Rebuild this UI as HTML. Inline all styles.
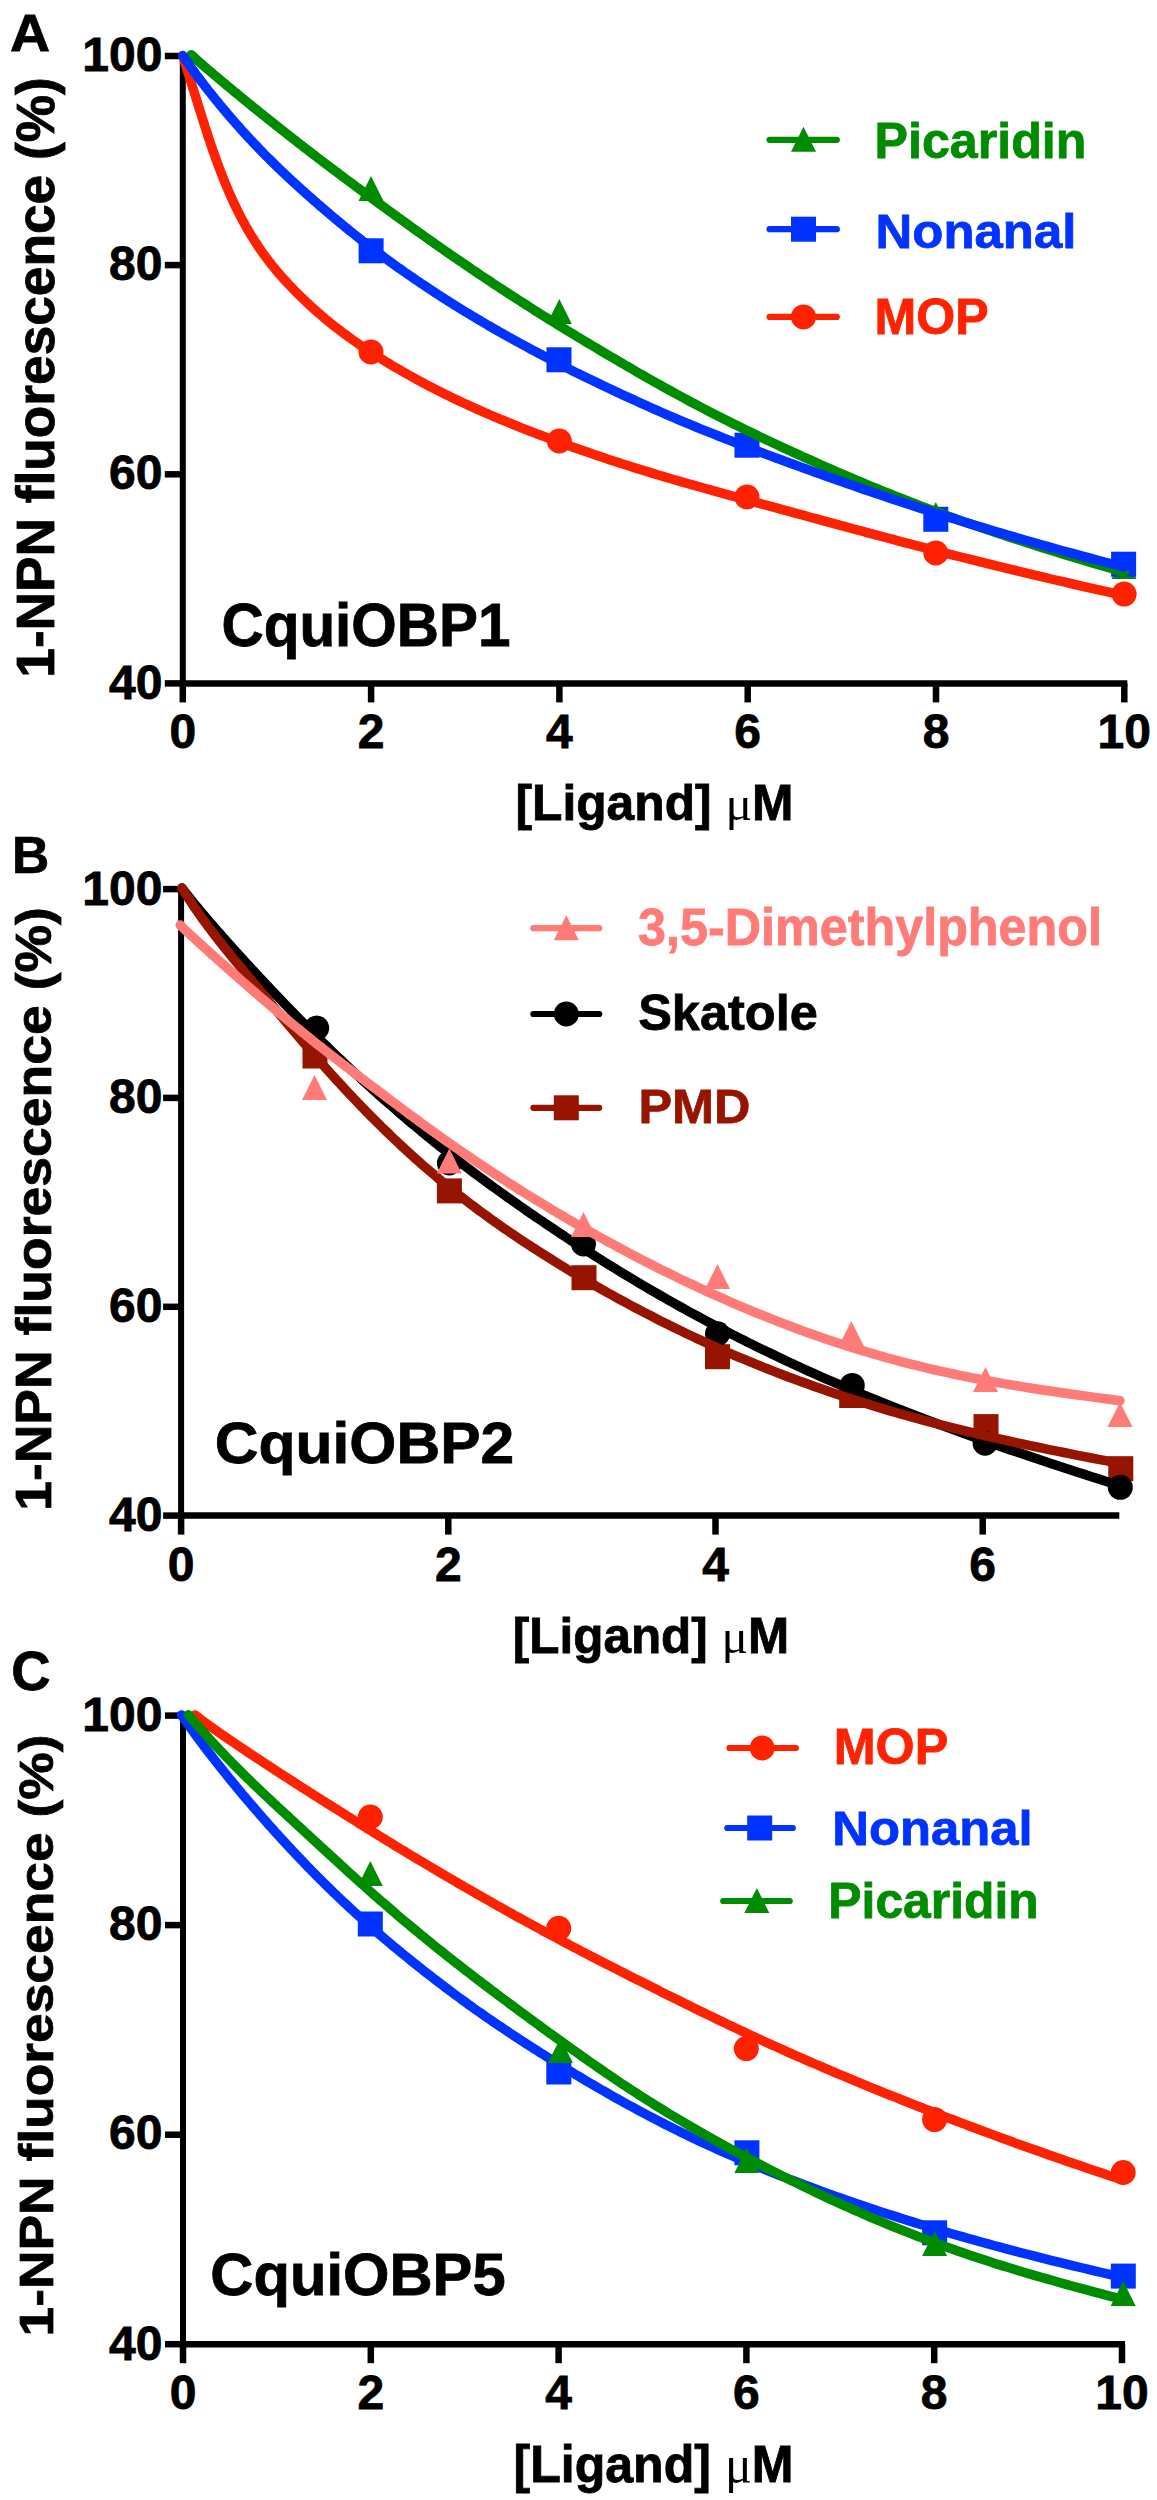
<!DOCTYPE html>
<html><head><meta charset="utf-8"><style>
html,body{margin:0;padding:0;background:#fff;width:1157px;height:2500px;overflow:hidden}
svg{display:block}
text{font-family:"Liberation Sans",sans-serif}
</style></head><body>
<svg width="1157" height="2500" viewBox="0 0 1157 2500">
<rect width="1157" height="2500" fill="#fff"/>
<line x1="182.8" y1="52.7" x2="182.8" y2="686.6999999999999" stroke="#000" stroke-width="6"/>
<line x1="179.8" y1="683.4" x2="1127.3" y2="683.4" stroke="#000" stroke-width="6.5"/>
<line x1="164.8" y1="56.0" x2="182.8" y2="56.0" stroke="#000" stroke-width="6.5"/>
<line x1="164.8" y1="265.1" x2="182.8" y2="265.1" stroke="#000" stroke-width="6.5"/>
<line x1="164.8" y1="474.3" x2="182.8" y2="474.3" stroke="#000" stroke-width="6.5"/>
<line x1="164.8" y1="683.4" x2="182.8" y2="683.4" stroke="#000" stroke-width="6.5"/>
<line x1="182.8" y1="683.4" x2="182.8" y2="702.4" stroke="#000" stroke-width="6.5"/>
<line x1="371.1" y1="683.4" x2="371.1" y2="702.4" stroke="#000" stroke-width="6.5"/>
<line x1="559.4" y1="683.4" x2="559.4" y2="702.4" stroke="#000" stroke-width="6.5"/>
<line x1="747.7" y1="683.4" x2="747.7" y2="702.4" stroke="#000" stroke-width="6.5"/>
<line x1="936.0" y1="683.4" x2="936.0" y2="702.4" stroke="#000" stroke-width="6.5"/>
<line x1="1124.3" y1="683.4" x2="1124.3" y2="702.4" stroke="#000" stroke-width="6.5"/>
<line x1="181.1" y1="885.8000000000001" x2="181.1" y2="1518.8999999999999" stroke="#000" stroke-width="6"/>
<line x1="178.1" y1="1515.6" x2="1119.3" y2="1515.6" stroke="#000" stroke-width="6.5"/>
<line x1="163.1" y1="889.1" x2="181.1" y2="889.1" stroke="#000" stroke-width="6.5"/>
<line x1="163.1" y1="1097.9" x2="181.1" y2="1097.9" stroke="#000" stroke-width="6.5"/>
<line x1="163.1" y1="1306.8" x2="181.1" y2="1306.8" stroke="#000" stroke-width="6.5"/>
<line x1="163.1" y1="1515.6" x2="181.1" y2="1515.6" stroke="#000" stroke-width="6.5"/>
<line x1="181.1" y1="1515.6" x2="181.1" y2="1534.6" stroke="#000" stroke-width="6.5"/>
<line x1="448.3" y1="1515.6" x2="448.3" y2="1534.6" stroke="#000" stroke-width="6.5"/>
<line x1="715.5" y1="1515.6" x2="715.5" y2="1534.6" stroke="#000" stroke-width="6.5"/>
<line x1="982.7" y1="1515.6" x2="982.7" y2="1534.6" stroke="#000" stroke-width="6.5"/>
<line x1="183.0" y1="1712.3" x2="183.0" y2="2347.5" stroke="#000" stroke-width="6"/>
<line x1="180.0" y1="2344.2" x2="1125.0" y2="2344.2" stroke="#000" stroke-width="6.5"/>
<line x1="165.0" y1="1715.6" x2="183.0" y2="1715.6" stroke="#000" stroke-width="6.5"/>
<line x1="165.0" y1="1925.1" x2="183.0" y2="1925.1" stroke="#000" stroke-width="6.5"/>
<line x1="165.0" y1="2134.7" x2="183.0" y2="2134.7" stroke="#000" stroke-width="6.5"/>
<line x1="165.0" y1="2344.2" x2="183.0" y2="2344.2" stroke="#000" stroke-width="6.5"/>
<line x1="183.0" y1="2344.2" x2="183.0" y2="2363.2" stroke="#000" stroke-width="6.5"/>
<line x1="370.8" y1="2344.2" x2="370.8" y2="2363.2" stroke="#000" stroke-width="6.5"/>
<line x1="558.6" y1="2344.2" x2="558.6" y2="2363.2" stroke="#000" stroke-width="6.5"/>
<line x1="746.4" y1="2344.2" x2="746.4" y2="2363.2" stroke="#000" stroke-width="6.5"/>
<line x1="934.2" y1="2344.2" x2="934.2" y2="2363.2" stroke="#000" stroke-width="6.5"/>
<line x1="1122.0" y1="2344.2" x2="1122.0" y2="2363.2" stroke="#000" stroke-width="6.5"/>
<text transform="translate(162.40,70.50)" x="0" y="0" font-size="48" fill="#000000" stroke="#000000" stroke-width="0.8" text-anchor="end" font-weight="bold">100</text>
<text transform="translate(162.40,279.83)" x="0" y="0" font-size="48" fill="#000000" stroke="#000000" stroke-width="0.8" text-anchor="end" font-weight="bold">80</text>
<text transform="translate(162.40,489.17)" x="0" y="0" font-size="48" fill="#000000" stroke="#000000" stroke-width="0.8" text-anchor="end" font-weight="bold">60</text>
<text transform="translate(162.40,698.50)" x="0" y="0" font-size="48" fill="#000000" stroke="#000000" stroke-width="0.8" text-anchor="end" font-weight="bold">40</text>
<text transform="translate(182.80,747.75)" x="0" y="0" font-size="48" fill="#000000" stroke="#000000" stroke-width="0.8" text-anchor="middle" font-weight="bold">0</text>
<text transform="translate(371.10,747.75)" x="0" y="0" font-size="48" fill="#000000" stroke="#000000" stroke-width="0.8" text-anchor="middle" font-weight="bold">2</text>
<text transform="translate(559.40,747.75)" x="0" y="0" font-size="48" fill="#000000" stroke="#000000" stroke-width="0.8" text-anchor="middle" font-weight="bold">4</text>
<text transform="translate(747.70,747.75)" x="0" y="0" font-size="48" fill="#000000" stroke="#000000" stroke-width="0.8" text-anchor="middle" font-weight="bold">6</text>
<text transform="translate(936.00,747.75)" x="0" y="0" font-size="48" fill="#000000" stroke="#000000" stroke-width="0.8" text-anchor="middle" font-weight="bold">8</text>
<text transform="translate(1124.30,747.75)" x="0" y="0" font-size="48" fill="#000000" stroke="#000000" stroke-width="0.8" text-anchor="middle" font-weight="bold">10</text>
<text transform="translate(162.40,904.50)" x="0" y="0" font-size="48" fill="#000000" stroke="#000000" stroke-width="0.8" text-anchor="end" font-weight="bold">100</text>
<text transform="translate(162.40,1112.83)" x="0" y="0" font-size="48" fill="#000000" stroke="#000000" stroke-width="0.8" text-anchor="end" font-weight="bold">80</text>
<text transform="translate(162.40,1322.17)" x="0" y="0" font-size="48" fill="#000000" stroke="#000000" stroke-width="0.8" text-anchor="end" font-weight="bold">60</text>
<text transform="translate(162.40,1530.50)" x="0" y="0" font-size="48" fill="#000000" stroke="#000000" stroke-width="0.8" text-anchor="end" font-weight="bold">40</text>
<text transform="translate(181.10,1580.75)" x="0" y="0" font-size="48" fill="#000000" stroke="#000000" stroke-width="0.8" text-anchor="middle" font-weight="bold">0</text>
<text transform="translate(448.30,1580.75)" x="0" y="0" font-size="48" fill="#000000" stroke="#000000" stroke-width="0.8" text-anchor="middle" font-weight="bold">2</text>
<text transform="translate(715.50,1580.75)" x="0" y="0" font-size="48" fill="#000000" stroke="#000000" stroke-width="0.8" text-anchor="middle" font-weight="bold">4</text>
<text transform="translate(982.70,1580.75)" x="0" y="0" font-size="48" fill="#000000" stroke="#000000" stroke-width="0.8" text-anchor="middle" font-weight="bold">6</text>
<text transform="translate(162.40,1730.50)" x="0" y="0" font-size="48" fill="#000000" stroke="#000000" stroke-width="0.8" text-anchor="end" font-weight="bold">100</text>
<text transform="translate(162.40,1939.83)" x="0" y="0" font-size="48" fill="#000000" stroke="#000000" stroke-width="0.8" text-anchor="end" font-weight="bold">80</text>
<text transform="translate(162.40,2149.17)" x="0" y="0" font-size="48" fill="#000000" stroke="#000000" stroke-width="0.8" text-anchor="end" font-weight="bold">60</text>
<text transform="translate(162.40,2359.50)" x="0" y="0" font-size="48" fill="#000000" stroke="#000000" stroke-width="0.8" text-anchor="end" font-weight="bold">40</text>
<text transform="translate(183.00,2408.75)" x="0" y="0" font-size="48" fill="#000000" stroke="#000000" stroke-width="0.8" text-anchor="middle" font-weight="bold">0</text>
<text transform="translate(370.80,2408.75)" x="0" y="0" font-size="48" fill="#000000" stroke="#000000" stroke-width="0.8" text-anchor="middle" font-weight="bold">2</text>
<text transform="translate(558.60,2408.75)" x="0" y="0" font-size="48" fill="#000000" stroke="#000000" stroke-width="0.8" text-anchor="middle" font-weight="bold">4</text>
<text transform="translate(746.40,2408.75)" x="0" y="0" font-size="48" fill="#000000" stroke="#000000" stroke-width="0.8" text-anchor="middle" font-weight="bold">6</text>
<text transform="translate(934.20,2408.75)" x="0" y="0" font-size="48" fill="#000000" stroke="#000000" stroke-width="0.8" text-anchor="middle" font-weight="bold">8</text>
<text transform="translate(1122.00,2408.75)" x="0" y="0" font-size="48" fill="#000000" stroke="#000000" stroke-width="0.8" text-anchor="middle" font-weight="bold">10</text>
<text transform="translate(30.00,50.85) scale(1.0094,0.9587)" x="0" y="0" font-size="55" fill="#000000" stroke="#000000" stroke-width="0.8" text-anchor="middle" font-weight="bold">A</text>
<text transform="translate(30.50,873.35) scale(0.9379,0.9344)" x="0" y="0" font-size="55" fill="#000000" stroke="#000000" stroke-width="0.8" text-anchor="middle" font-weight="bold">B</text>
<text transform="translate(31.00,1690.15) scale(0.9894,0.9930)" x="0" y="0" font-size="55" fill="#000000" stroke="#000000" stroke-width="0.8" text-anchor="middle" font-weight="bold">C</text>
<text transform="translate(53.65,377.50) rotate(-90) scale(1.0239,1.0164)" x="0" y="0" font-size="52" fill="#000000" stroke="#000000" stroke-width="0.8" text-anchor="middle" font-weight="bold">1-NPN fluorescence (%)</text>
<text transform="translate(51.05,1209.00) rotate(-90) scale(1.0293,0.9607)" x="0" y="0" font-size="52" fill="#000000" stroke="#000000" stroke-width="0.8" text-anchor="middle" font-weight="bold">1-NPN fluorescence (%)</text>
<text transform="translate(52.75,2035.50) rotate(-90) scale(1.0265,0.9355)" x="0" y="0" font-size="52" fill="#000000" stroke="#000000" stroke-width="0.8" text-anchor="middle" font-weight="bold">1-NPN fluorescence (%)</text>
<text transform="translate(654.50,820.45) scale(0.9949,0.9843)" x="0" y="0" font-size="50" fill="#000000" stroke="#000000" stroke-width="0.8" text-anchor="middle" font-weight="bold">[Ligand] <tspan font-weight="normal" stroke-width="0" font-family="Liberation Serif">&#956;</tspan>M</text>
<text transform="translate(651.00,1652.50) scale(0.9887,0.9824)" x="0" y="0" font-size="50" fill="#000000" stroke="#000000" stroke-width="0.8" text-anchor="middle" font-weight="bold">[Ligand] <tspan font-weight="normal" stroke-width="0" font-family="Liberation Serif">&#956;</tspan>M</text>
<text transform="translate(653.50,2481.50) scale(1.0022,1.0353)" x="0" y="0" font-size="50" fill="#000000" stroke="#000000" stroke-width="0.8" text-anchor="middle" font-weight="bold">[Ligand] <tspan font-weight="normal" stroke-width="0" font-family="Liberation Serif">&#956;</tspan>M</text>
<text transform="translate(366.00,646.25) scale(0.9434,0.9935)" x="0" y="0" font-size="62" fill="#000000" stroke="#000000" stroke-width="0.8" text-anchor="middle" font-weight="bold">CquiOBP1</text>
<text transform="translate(364.50,1462.85) scale(0.9768,0.9394)" x="0" y="0" font-size="62" fill="#000000" stroke="#000000" stroke-width="0.8" text-anchor="middle" font-weight="bold">CquiOBP2</text>
<text transform="translate(358.00,2295.40) scale(0.9636,0.9541)" x="0" y="0" font-size="62" fill="#000000" stroke="#000000" stroke-width="0.8" text-anchor="middle" font-weight="bold">CquiOBP5</text>
<text transform="translate(980.50,158.40) scale(0.9933,0.9855)" x="0" y="0" font-size="50.5" fill="#008c00" stroke="#008c00" stroke-width="0.8" text-anchor="middle" font-weight="bold">Picaridin</text>
<text transform="translate(976.00,247.65) scale(1.0084,0.9693)" x="0" y="0" font-size="50.5" fill="#0033ff" stroke="#0033ff" stroke-width="0.8" text-anchor="middle" font-weight="bold">Nonanal</text>
<text transform="translate(931.50,334.05) scale(0.9929,1.0006)" x="0" y="0" font-size="50.5" fill="#ff2200" stroke="#ff2200" stroke-width="0.8" text-anchor="middle" font-weight="bold">MOP</text>
<text transform="translate(870.00,945.35) scale(0.9965,1.0312)" x="0" y="0" font-size="50.5" fill="#ff7b78" stroke="#ff7b78" stroke-width="0.8" text-anchor="middle" font-weight="bold">3,5-Dimethylphenol</text>
<text transform="translate(728.00,1029.50) scale(1.0006,0.9790)" x="0" y="0" font-size="50.5" fill="#000000" stroke="#000000" stroke-width="0.8" text-anchor="middle" font-weight="bold">Skatole</text>
<text transform="translate(694.50,1122.90) scale(0.9983,0.9533)" x="0" y="0" font-size="50.5" fill="#961400" stroke="#961400" stroke-width="0.8" text-anchor="middle" font-weight="bold">PMD</text>
<text transform="translate(891.00,1764.15) scale(0.9957,0.9942)" x="0" y="0" font-size="50.5" fill="#ff2200" stroke="#ff2200" stroke-width="0.8" text-anchor="middle" font-weight="bold">MOP</text>
<text transform="translate(932.50,1845.05) scale(1.0058,0.9485)" x="0" y="0" font-size="50.5" fill="#0033ff" stroke="#0033ff" stroke-width="0.8" text-anchor="middle" font-weight="bold">Nonanal</text>
<text transform="translate(933.50,1918.40) scale(0.9861,0.9846)" x="0" y="0" font-size="50.5" fill="#008c00" stroke="#008c00" stroke-width="0.8" text-anchor="middle" font-weight="bold">Picaridin</text>
<line x1="769.6" y1="139.8" x2="836.8" y2="139.8" stroke="#008c00" stroke-width="6.2" stroke-linecap="round"/>
<path d="M803.5,126.8 L816.0,151.8 L791.0,151.8 Z" fill="#008c00"/>
<line x1="769.6" y1="229.2" x2="836.8" y2="229.2" stroke="#0033ff" stroke-width="6.2" stroke-linecap="round"/>
<rect x="791.0" y="216.7" width="25" height="25" fill="#0033ff"/>
<line x1="769.6" y1="316.9" x2="836.8" y2="316.9" stroke="#ff2200" stroke-width="6.2" stroke-linecap="round"/>
<circle cx="803.5" cy="316.9" r="12.5" fill="#ff2200"/>
<line x1="533.4" y1="928.2" x2="599.2" y2="928.2" stroke="#ff7b78" stroke-width="6.2" stroke-linecap="round"/>
<path d="M566.3,915.2 L578.8,940.2 L553.8,940.2 Z" fill="#ff7b78"/>
<line x1="533.4" y1="1014.0" x2="599.2" y2="1014.0" stroke="#000000" stroke-width="6.2" stroke-linecap="round"/>
<circle cx="566.3" cy="1014.0" r="12.5" fill="#000000"/>
<line x1="533.4" y1="1107.8" x2="599.2" y2="1107.8" stroke="#961400" stroke-width="6.2" stroke-linecap="round"/>
<rect x="553.8" y="1095.3" width="25" height="25" fill="#961400"/>
<line x1="729.4" y1="1748.0" x2="795.9" y2="1748.0" stroke="#ff2200" stroke-width="6.2" stroke-linecap="round"/>
<circle cx="762.2" cy="1748.0" r="12.5" fill="#ff2200"/>
<line x1="727.3" y1="1828.0" x2="792.8" y2="1828.0" stroke="#0033ff" stroke-width="6.2" stroke-linecap="round"/>
<rect x="747.2" y="1815.5" width="25" height="25" fill="#0033ff"/>
<line x1="723.2" y1="1901.0" x2="789.7" y2="1901.0" stroke="#008c00" stroke-width="6.2" stroke-linecap="round"/>
<path d="M756.9,1888.0 L769.4,1913.0 L744.4,1913.0 Z" fill="#008c00"/>
<path d="M371.0,176.0 L383.5,201.0 L358.5,201.0 Z" fill="#008c00"/>
<path d="M559.3,299.0 L571.8,324.0 L546.8,324.0 Z" fill="#008c00"/>
<path d="M747.0,427.0 L759.5,452.0 L734.5,452.0 Z" fill="#008c00"/>
<path d="M935.8,502.0 L948.3,527.0 L923.3,527.0 Z" fill="#008c00"/>
<path d="M1124.0,554.0 L1136.5,579.0 L1111.5,579.0 Z" fill="#008c00"/>
<path d="M182.8,55.5 L183.2,57.0 L183.7,58.5 L184.1,60.0 L184.5,61.5 L185.0,63.0 L185.5,64.5 L185.9,66.0 L186.4,67.5 L186.8,69.0 L187.3,70.5 L187.8,72.1 L188.3,73.6 L188.8,75.2 L189.3,76.7 L189.8,78.3 L190.3,79.9 L190.8,81.5 L191.3,83.1 L191.8,84.8 L192.3,86.4 L192.9,88.1 L193.4,89.8 L194.0,91.5 L194.5,93.3 L195.1,95.0 L195.6,96.8 L196.2,98.7 L196.8,100.5 L197.4,102.3 L197.9,104.2 L198.5,106.1 L199.1,108.1 L199.7,110.0 L200.4,112.0 L201.0,113.9 L201.6,115.9 L202.2,118.0 L202.9,120.0 L203.5,122.0 L204.2,124.1 L204.8,126.2 L205.5,128.2 L206.2,130.3 L206.9,132.4 L207.5,134.5 L208.2,136.7 L208.9,138.8 L209.7,140.9 L210.4,143.1 L211.1,145.2 L211.8,147.4 L212.6,149.5 L213.3,151.7 L214.1,153.8 L214.9,156.0 L215.6,158.2 L216.4,160.3 L217.2,162.5 L218.0,164.7 L218.8,166.8 L219.6,169.0 L220.5,171.2 L221.3,173.3 L222.1,175.5 L223.0,177.7 L223.9,179.8 L224.7,182.0 L225.6,184.1 L226.5,186.3 L227.4,188.4 L228.3,190.5 L229.2,192.7 L230.2,194.8 L231.1,196.9 L232.1,199.0 L233.0,201.1 L234.0,203.2 L235.0,205.3 L236.0,207.4 L237.0,209.4 L238.0,211.5 L239.0,213.5 L240.0,215.5 L241.1,217.5 L242.1,219.5 L243.2,221.5 L244.3,223.5 L245.4,225.5 L246.5,227.4 L247.6,229.4 L248.7,231.3 L249.9,233.2 L251.0,235.1 L252.2,237.0 L253.4,238.9 L254.6,240.8 L255.8,242.6 L257.0,244.5 L258.2,246.3 L259.4,248.1 L260.7,250.0 L262.0,251.8 L263.2,253.6 L264.5,255.4 L265.8,257.1 L267.2,258.9 L268.5,260.7 L269.9,262.4 L271.2,264.2 L272.6,265.9 L274.0,267.6 L275.4,269.3 L276.8,271.1 L278.3,272.8 L279.7,274.4 L281.2,276.1 L282.7,277.8 L284.2,279.5 L285.7,281.2 L287.3,282.8 L288.8,284.5 L290.4,286.1 L292.0,287.8 L293.6,289.5 L295.2,291.1 L296.9,292.8 L298.5,294.4 L300.2,296.1 L301.9,297.7 L303.6,299.4 L305.3,301.0 L307.1,302.7 L308.8,304.3 L310.6,306.0 L312.4,307.6 L314.3,309.3 L316.1,310.9 L318.0,312.6 L319.9,314.2 L321.8,315.8 L323.7,317.5 L325.6,319.1 L327.6,320.7 L329.6,322.3 L331.6,324.0 L333.6,325.6 L335.7,327.2 L337.8,328.8 L339.9,330.4 L342.0,332.0 L344.1,333.6 L346.3,335.2 L348.5,336.8 L350.7,338.4 L352.9,340.0 L355.2,341.6 L357.5,343.2 L359.8,344.8 L362.1,346.4 L364.5,348.0 L366.9,349.5 L369.3,351.1 L371.7,352.7 L374.2,354.3 L376.7,355.9 L379.2,357.5 L381.7,359.1 L384.3,360.7 L386.9,362.3 L389.5,363.9 L392.2,365.5 L394.8,367.1 L397.6,368.7 L400.3,370.2 L403.1,371.8 L405.9,373.4 L408.7,375.0 L411.6,376.6 L414.5,378.2 L417.4,379.8 L420.3,381.4 L423.3,383.0 L426.3,384.6 L429.4,386.2 L432.5,387.8 L435.6,389.4 L438.7,391.0 L441.9,392.6 L445.1,394.2 L448.4,395.8 L451.7,397.4 L455.0,399.0 L458.4,400.6 L461.8,402.2 L465.2,403.8 L468.7,405.4 L472.2,407.0 L475.7,408.6 L479.3,410.2 L482.9,411.8 L486.6,413.4 L490.3,415.0 L494.0,416.6 L497.8,418.2 L501.6,419.8 L505.5,421.3 L509.4,422.9 L513.3,424.5 L517.3,426.2 L521.3,427.8 L525.4,429.4 L529.5,431.0 L533.7,432.6 L537.9,434.2 L542.1,435.8 L546.4,437.4 L550.8,439.0 L555.2,440.7 L559.6,442.3 L564.1,443.9 L568.6,445.5 L573.2,447.2 L577.8,448.8 L582.5,450.5 L587.2,452.1 L592.0,453.8 L596.9,455.4 L601.7,457.1 L606.7,458.7 L611.7,460.4 L616.7,462.0 L621.8,463.7 L627.0,465.3 L632.2,467.0 L637.4,468.6 L642.8,470.3 L648.2,471.9 L653.6,473.6 L659.1,475.2 L664.6,476.9 L670.3,478.5 L675.9,480.2 L681.7,481.8 L687.5,483.5 L693.3,485.1 L699.2,486.8 L705.2,488.5 L711.3,490.2 L717.4,491.9 L723.6,493.6 L729.8,495.3 L736.1,497.0 L742.5,498.8 L749.0,500.5 L755.5,502.3 L762.1,504.1 L768.8,505.9 L775.5,507.7 L782.3,509.6 L789.2,511.4 L796.1,513.3 L803.2,515.2 L810.3,517.2 L817.5,519.1 L824.7,521.1 L832.1,523.1 L839.5,525.1 L847.0,527.1 L854.5,529.2 L862.2,531.2 L869.9,533.3 L877.8,535.4 L885.7,537.5 L893.7,539.6 L901.7,541.8 L909.9,543.9 L918.2,546.1 L926.5,548.2 L934.9,550.4 L943.5,552.6 L952.1,554.8 L960.8,557.0 L969.6,559.2 L978.5,561.4 L987.5,563.6 L996.6,565.9 L1005.7,568.1 L1015.0,570.4 L1024.4,572.6 L1033.9,574.9 L1043.5,577.2 L1053.2,579.5 L1063.0,581.7 L1072.9,584.0 L1082.9,586.3 L1093.0,588.6 L1103.2,590.9 L1113.6,593.2 L1124.0,595.5" fill="none" stroke="#ff2200" stroke-width="9.5" stroke-linecap="round" stroke-linejoin="round"/>
<circle cx="371.0" cy="352.0" r="12.5" fill="#ff2200"/>
<circle cx="559.3" cy="441.0" r="12.5" fill="#ff2200"/>
<circle cx="747.0" cy="497.0" r="12.5" fill="#ff2200"/>
<circle cx="935.8" cy="553.0" r="12.5" fill="#ff2200"/>
<circle cx="1124.1" cy="594.1" r="12.5" fill="#ff2200"/>
<rect x="358.6" y="238.3" width="25" height="25" fill="#0033ff"/>
<rect x="546.5" y="347.3" width="25" height="25" fill="#0033ff"/>
<rect x="734.5" y="432.7" width="25" height="25" fill="#0033ff"/>
<rect x="923.3" y="506.8" width="25" height="25" fill="#0033ff"/>
<rect x="1111.1" y="551.7" width="25" height="25" fill="#0033ff"/>
<path d="M191.2,54.7 L192.2,55.6 L193.2,56.5 L194.2,57.4 L195.2,58.3 L196.2,59.3 L197.3,60.2 L198.3,61.1 L199.3,62.0 L200.4,63.0 L201.5,63.9 L202.5,64.8 L203.6,65.7 L204.7,66.7 L205.7,67.6 L206.8,68.6 L207.9,69.5 L209.0,70.4 L210.2,71.4 L211.3,72.3 L212.4,73.3 L213.5,74.3 L214.7,75.2 L215.8,76.2 L217.0,77.2 L218.2,78.1 L219.3,79.1 L220.5,80.1 L221.7,81.1 L222.9,82.1 L224.1,83.1 L225.3,84.1 L226.5,85.2 L227.8,86.2 L229.0,87.2 L230.3,88.2 L231.5,89.3 L232.8,90.3 L234.0,91.4 L235.3,92.4 L236.6,93.5 L237.9,94.6 L239.2,95.6 L240.5,96.7 L241.8,97.8 L243.2,98.9 L244.5,100.0 L245.9,101.1 L247.2,102.2 L248.6,103.3 L250.0,104.4 L251.3,105.5 L252.7,106.7 L254.1,107.8 L255.6,108.9 L257.0,110.1 L258.4,111.2 L259.8,112.4 L261.3,113.6 L262.8,114.7 L264.2,115.9 L265.7,117.1 L267.2,118.3 L268.7,119.5 L270.2,120.7 L271.7,121.9 L273.3,123.1 L274.8,124.3 L276.3,125.6 L277.9,126.8 L279.5,128.0 L281.0,129.3 L282.6,130.5 L284.2,131.8 L285.9,133.1 L287.5,134.4 L289.1,135.6 L290.8,136.9 L292.4,138.2 L294.1,139.5 L295.8,140.8 L297.4,142.1 L299.1,143.5 L300.9,144.8 L302.6,146.1 L304.3,147.5 L306.1,148.8 L307.8,150.2 L309.6,151.5 L311.4,152.9 L313.2,154.3 L315.0,155.7 L316.8,157.0 L318.6,158.4 L320.4,159.8 L322.3,161.2 L324.2,162.7 L326.0,164.1 L327.9,165.5 L329.8,166.9 L331.7,168.4 L333.7,169.8 L335.6,171.3 L337.6,172.7 L339.5,174.2 L341.5,175.7 L343.5,177.2 L345.5,178.7 L347.5,180.2 L349.5,181.7 L351.6,183.2 L353.7,184.7 L355.7,186.3 L357.8,187.8 L359.9,189.4 L362.0,191.0 L364.2,192.5 L366.3,194.1 L368.5,195.7 L370.6,197.3 L372.8,198.9 L375.0,200.6 L377.2,202.2 L379.4,203.8 L381.7,205.5 L384.0,207.1 L386.2,208.8 L388.5,210.5 L390.8,212.1 L393.1,213.8 L395.5,215.5 L397.8,217.2 L400.2,218.9 L402.6,220.7 L405.0,222.4 L407.4,224.1 L409.8,225.9 L412.2,227.6 L414.7,229.4 L417.2,231.2 L419.7,232.9 L422.2,234.7 L424.7,236.5 L427.3,238.3 L429.8,240.1 L432.4,241.9 L435.0,243.8 L437.6,245.6 L440.2,247.4 L442.9,249.3 L445.5,251.1 L448.2,253.0 L450.9,254.9 L453.6,256.7 L456.4,258.6 L459.1,260.5 L461.9,262.4 L464.7,264.3 L467.5,266.2 L470.3,268.2 L473.2,270.1 L476.0,272.0 L478.9,274.0 L481.8,275.9 L484.8,277.9 L487.7,279.8 L490.7,281.8 L493.6,283.8 L496.6,285.8 L499.7,287.7 L502.7,289.7 L505.8,291.7 L508.8,293.7 L512.0,295.8 L515.1,297.8 L518.2,299.8 L521.4,301.9 L524.6,303.9 L527.8,305.9 L531.0,308.0 L534.2,310.1 L537.5,312.1 L540.8,314.2 L544.1,316.3 L547.5,318.4 L550.8,320.4 L554.2,322.5 L557.6,324.6 L561.0,326.8 L564.5,328.9 L567.9,331.0 L571.4,333.1 L575.0,335.2 L578.5,337.4 L582.1,339.5 L585.6,341.7 L589.3,343.9 L592.9,346.0 L596.6,348.2 L600.2,350.4 L603.9,352.6 L607.7,354.8 L611.4,357.0 L615.2,359.2 L619.0,361.5 L622.9,363.7 L626.7,366.0 L630.6,368.2 L634.5,370.5 L638.4,372.8 L642.4,375.0 L646.4,377.3 L650.4,379.6 L654.4,381.9 L658.5,384.2 L662.6,386.5 L666.7,388.7 L670.9,391.0 L675.1,393.3 L679.3,395.6 L683.5,397.9 L687.8,400.2 L692.0,402.5 L696.4,404.8 L700.7,407.1 L705.1,409.4 L709.5,411.7 L713.9,413.9 L718.4,416.2 L722.9,418.5 L727.4,420.8 L731.9,423.1 L736.5,425.3 L741.1,427.6 L745.8,429.9 L750.4,432.1 L755.2,434.4 L759.9,436.7 L764.7,439.0 L769.5,441.2 L774.3,443.5 L779.1,445.8 L784.0,448.1 L789.0,450.3 L793.9,452.6 L798.9,454.9 L803.9,457.2 L809.0,459.4 L814.1,461.7 L819.2,464.0 L824.4,466.3 L829.6,468.6 L834.8,470.9 L840.1,473.1 L845.4,475.4 L850.7,477.7 L856.1,480.0 L861.5,482.2 L866.9,484.5 L872.4,486.8 L877.9,489.0 L883.5,491.3 L889.0,493.5 L894.7,495.8 L900.3,498.0 L906.0,500.2 L911.8,502.4 L917.5,504.7 L923.4,506.9 L929.2,509.1 L935.1,511.2 L941.0,513.4 L947.0,515.6 L953.0,517.8 L959.0,519.9 L965.1,522.1 L971.3,524.2 L977.4,526.4 L983.6,528.5 L989.9,530.6 L996.2,532.7 L1002.5,534.8 L1008.9,536.9 L1015.3,539.0 L1021.8,541.1 L1028.3,543.2 L1034.8,545.3 L1041.4,547.4 L1048.1,549.5 L1054.7,551.5 L1061.5,553.6 L1068.2,555.7 L1075.0,557.7 L1081.9,559.8 L1088.8,561.9 L1095.7,563.9 L1102.7,566.0 L1109.8,568.0 L1116.9,570.1 L1124.0,572.1" fill="none" stroke="#008c00" stroke-width="9.5" stroke-linecap="round" stroke-linejoin="round"/>
<path d="M182.8,55.6 L183.8,57.1 L184.8,58.5 L185.8,60.0 L186.8,61.5 L187.9,62.9 L188.9,64.4 L189.9,65.9 L191.0,67.3 L192.0,68.8 L193.1,70.3 L194.2,71.7 L195.2,73.2 L196.3,74.7 L197.4,76.2 L198.5,77.6 L199.6,79.1 L200.7,80.6 L201.8,82.0 L203.0,83.5 L204.1,85.0 L205.2,86.5 L206.4,87.9 L207.5,89.4 L208.7,90.9 L209.9,92.4 L211.1,93.9 L212.2,95.3 L213.4,96.8 L214.6,98.3 L215.8,99.8 L217.1,101.3 L218.3,102.8 L219.5,104.3 L220.8,105.8 L222.0,107.3 L223.3,108.8 L224.6,110.3 L225.8,111.8 L227.1,113.4 L228.4,114.9 L229.7,116.4 L231.0,117.9 L232.3,119.5 L233.7,121.0 L235.0,122.5 L236.4,124.1 L237.7,125.6 L239.1,127.1 L240.4,128.7 L241.8,130.2 L243.2,131.7 L244.6,133.3 L246.0,134.8 L247.5,136.4 L248.9,137.9 L250.3,139.5 L251.8,141.0 L253.2,142.6 L254.7,144.1 L256.2,145.7 L257.7,147.2 L259.2,148.8 L260.7,150.3 L262.2,151.9 L263.7,153.5 L265.2,155.0 L266.8,156.6 L268.4,158.1 L269.9,159.7 L271.5,161.3 L273.1,162.8 L274.7,164.4 L276.3,166.0 L277.9,167.5 L279.6,169.1 L281.2,170.7 L282.9,172.2 L284.5,173.8 L286.2,175.4 L287.9,177.0 L289.6,178.6 L291.3,180.2 L293.0,181.7 L294.7,183.3 L296.5,184.9 L298.2,186.5 L300.0,188.1 L301.8,189.7 L303.6,191.3 L305.4,193.0 L307.2,194.6 L309.0,196.2 L310.9,197.8 L312.7,199.5 L314.6,201.1 L316.5,202.7 L318.3,204.4 L320.2,206.0 L322.2,207.7 L324.1,209.3 L326.0,211.0 L328.0,212.6 L329.9,214.3 L331.9,216.0 L333.9,217.7 L335.9,219.3 L337.9,221.0 L340.0,222.7 L342.0,224.4 L344.1,226.1 L346.1,227.8 L348.2,229.5 L350.3,231.2 L352.5,232.9 L354.6,234.6 L356.7,236.3 L358.9,238.0 L361.1,239.7 L363.2,241.4 L365.4,243.1 L367.7,244.9 L369.9,246.6 L372.1,248.3 L374.4,250.0 L376.7,251.8 L378.9,253.5 L381.3,255.2 L383.6,256.9 L385.9,258.7 L388.3,260.4 L390.6,262.1 L393.0,263.8 L395.4,265.6 L397.8,267.3 L400.3,269.0 L402.7,270.7 L405.2,272.5 L407.6,274.2 L410.1,275.9 L412.7,277.6 L415.2,279.4 L417.7,281.1 L420.3,282.8 L422.9,284.6 L425.5,286.3 L428.1,288.0 L430.7,289.8 L433.4,291.5 L436.0,293.3 L438.7,295.0 L441.4,296.7 L444.1,298.5 L446.9,300.2 L449.6,302.0 L452.4,303.7 L455.2,305.5 L458.0,307.2 L460.9,309.0 L463.7,310.7 L466.6,312.5 L469.5,314.2 L472.4,316.0 L475.3,317.7 L478.2,319.5 L481.2,321.2 L484.2,323.0 L487.2,324.8 L490.2,326.5 L493.3,328.3 L496.3,330.0 L499.4,331.8 L502.5,333.5 L505.7,335.3 L508.8,337.1 L512.0,338.8 L515.2,340.6 L518.4,342.4 L521.6,344.1 L524.9,345.9 L528.1,347.7 L531.4,349.5 L534.8,351.2 L538.1,353.0 L541.5,354.8 L544.9,356.6 L548.3,358.4 L551.7,360.2 L555.2,361.9 L558.6,363.7 L562.1,365.5 L565.7,367.3 L569.2,369.1 L572.8,370.9 L576.4,372.7 L580.0,374.4 L583.6,376.2 L587.3,378.0 L591.0,379.8 L594.7,381.6 L598.5,383.4 L602.2,385.2 L606.0,387.0 L609.8,388.8 L613.7,390.6 L617.5,392.4 L621.4,394.3 L625.4,396.1 L629.3,397.9 L633.3,399.7 L637.3,401.5 L641.3,403.4 L645.4,405.2 L649.4,407.0 L653.5,408.8 L657.7,410.7 L661.8,412.5 L666.0,414.3 L670.2,416.1 L674.5,417.9 L678.8,419.8 L683.1,421.6 L687.4,423.4 L691.7,425.2 L696.1,427.0 L700.5,428.8 L705.0,430.6 L709.5,432.4 L714.0,434.2 L718.5,436.0 L723.1,437.8 L727.7,439.6 L732.3,441.4 L737.0,443.2 L741.6,445.0 L746.4,446.8 L751.1,448.6 L755.9,450.4 L760.7,452.2 L765.6,454.1 L770.4,455.9 L775.4,457.7 L780.3,459.5 L785.3,461.4 L790.3,463.2 L795.3,465.0 L800.4,466.9 L805.5,468.7 L810.7,470.6 L815.8,472.5 L821.1,474.3 L826.3,476.2 L831.6,478.1 L836.9,479.9 L842.3,481.8 L847.7,483.7 L853.1,485.6 L858.5,487.5 L864.0,489.4 L869.6,491.3 L875.2,493.2 L880.8,495.1 L886.4,497.0 L892.1,498.9 L897.8,500.8 L903.6,502.7 L909.4,504.6 L915.2,506.5 L921.1,508.4 L927.0,510.3 L933.0,512.2 L938.9,514.1 L945.0,516.0 L951.1,517.9 L957.2,519.8 L963.3,521.7 L969.5,523.6 L975.8,525.5 L982.0,527.4 L988.4,529.3 L994.7,531.2 L1001.1,533.1 L1007.6,535.0 L1014.1,536.9 L1020.6,538.8 L1027.2,540.7 L1033.8,542.6 L1040.5,544.5 L1047.2,546.4 L1053.9,548.3 L1060.7,550.2 L1067.6,552.1 L1074.5,553.9 L1081.4,555.8 L1088.4,557.7 L1095.4,559.6 L1102.5,561.5 L1109.6,563.3 L1116.8,565.2 L1124.0,567.1" fill="none" stroke="#0033ff" stroke-width="9.5" stroke-linecap="round" stroke-linejoin="round"/>
<rect x="302.5" y="1043.5" width="25" height="25" fill="#961400"/>
<rect x="436.9" y="1178.4" width="25" height="25" fill="#961400"/>
<rect x="571.5" y="1265.2" width="25" height="25" fill="#961400"/>
<rect x="705.0" y="1344.2" width="25" height="25" fill="#961400"/>
<rect x="839.2" y="1383.0" width="25" height="25" fill="#961400"/>
<rect x="973.5" y="1414.1" width="25" height="25" fill="#961400"/>
<rect x="1108.3" y="1456.2" width="25" height="25" fill="#961400"/>
<circle cx="316.7" cy="1028.0" r="12.5" fill="#000000"/>
<circle cx="449.4" cy="1163.0" r="12.5" fill="#000000"/>
<circle cx="583.5" cy="1244.0" r="12.5" fill="#000000"/>
<circle cx="717.5" cy="1333.8" r="12.5" fill="#000000"/>
<circle cx="852.2" cy="1385.4" r="12.5" fill="#000000"/>
<circle cx="985.1" cy="1443.2" r="12.5" fill="#000000"/>
<circle cx="1120.3" cy="1487.3" r="12.5" fill="#000000"/>
<path d="M181.9,888.0 L182.9,889.3 L183.9,890.6 L184.9,891.9 L185.9,893.2 L187.0,894.5 L188.0,895.8 L189.0,897.1 L190.1,898.4 L191.1,899.7 L192.2,901.0 L193.2,902.3 L194.3,903.7 L195.4,905.0 L196.5,906.3 L197.6,907.6 L198.7,908.9 L199.8,910.3 L200.9,911.6 L202.0,913.0 L203.2,914.3 L204.3,915.6 L205.4,917.0 L206.6,918.4 L207.8,919.7 L208.9,921.1 L210.1,922.5 L211.3,923.8 L212.5,925.2 L213.7,926.6 L214.9,928.0 L216.1,929.4 L217.3,930.8 L218.6,932.2 L219.8,933.6 L221.1,935.0 L222.3,936.5 L223.6,937.9 L224.9,939.3 L226.1,940.8 L227.4,942.2 L228.7,943.7 L230.0,945.1 L231.4,946.6 L232.7,948.1 L234.0,949.6 L235.4,951.1 L236.7,952.6 L238.1,954.1 L239.4,955.6 L240.8,957.1 L242.2,958.6 L243.6,960.1 L245.0,961.7 L246.4,963.2 L247.9,964.8 L249.3,966.3 L250.8,967.9 L252.2,969.4 L253.7,971.0 L255.1,972.6 L256.6,974.2 L258.1,975.8 L259.6,977.4 L261.1,979.0 L262.7,980.7 L264.2,982.3 L265.7,984.0 L267.3,985.6 L268.9,987.3 L270.4,988.9 L272.0,990.6 L273.6,992.3 L275.2,994.0 L276.8,995.7 L278.5,997.4 L280.1,999.1 L281.8,1000.8 L283.4,1002.6 L285.1,1004.3 L286.8,1006.1 L288.5,1007.8 L290.2,1009.6 L291.9,1011.3 L293.6,1013.1 L295.4,1014.9 L297.1,1016.7 L298.9,1018.5 L300.7,1020.3 L302.5,1022.1 L304.3,1023.9 L306.1,1025.8 L307.9,1027.6 L309.7,1029.4 L311.6,1031.3 L313.4,1033.1 L315.3,1035.0 L317.2,1036.9 L319.1,1038.8 L321.0,1040.6 L322.9,1042.5 L324.8,1044.4 L326.8,1046.3 L328.8,1048.2 L330.7,1050.2 L332.7,1052.1 L334.7,1054.0 L336.7,1056.0 L338.8,1057.9 L340.8,1059.8 L342.9,1061.8 L344.9,1063.8 L347.0,1065.7 L349.1,1067.7 L351.2,1069.7 L353.3,1071.7 L355.5,1073.7 L357.6,1075.6 L359.8,1077.6 L362.0,1079.7 L364.2,1081.7 L366.4,1083.7 L368.6,1085.7 L370.8,1087.7 L373.1,1089.8 L375.4,1091.8 L377.6,1093.9 L379.9,1095.9 L382.2,1098.0 L384.6,1100.0 L386.9,1102.1 L389.3,1104.2 L391.7,1106.2 L394.1,1108.3 L396.5,1110.4 L398.9,1112.5 L401.3,1114.6 L403.8,1116.7 L406.3,1118.8 L408.7,1120.9 L411.2,1123.0 L413.8,1125.1 L416.3,1127.2 L418.9,1129.3 L421.4,1131.5 L424.0,1133.6 L426.6,1135.7 L429.3,1137.9 L431.9,1140.0 L434.6,1142.2 L437.2,1144.3 L439.9,1146.5 L442.6,1148.6 L445.4,1150.8 L448.1,1153.0 L450.9,1155.1 L453.7,1157.3 L456.5,1159.5 L459.3,1161.6 L462.2,1163.8 L465.0,1166.0 L467.9,1168.2 L470.8,1170.4 L473.7,1172.6 L476.6,1174.8 L479.6,1177.0 L482.6,1179.2 L485.6,1181.4 L488.6,1183.6 L491.6,1185.8 L494.7,1188.0 L497.8,1190.3 L500.9,1192.5 L504.0,1194.7 L507.1,1197.0 L510.3,1199.2 L513.5,1201.4 L516.7,1203.7 L519.9,1206.0 L523.1,1208.2 L526.4,1210.5 L529.7,1212.8 L533.0,1215.0 L536.3,1217.3 L539.7,1219.6 L543.1,1221.9 L546.5,1224.2 L549.9,1226.5 L553.3,1228.8 L556.8,1231.2 L560.3,1233.5 L563.8,1235.8 L567.3,1238.1 L570.9,1240.5 L574.5,1242.8 L578.1,1245.2 L581.7,1247.5 L585.4,1249.9 L589.0,1252.2 L592.8,1254.6 L596.5,1257.0 L600.2,1259.3 L604.0,1261.7 L607.8,1264.1 L611.7,1266.4 L615.5,1268.8 L619.4,1271.2 L623.3,1273.6 L627.2,1275.9 L631.2,1278.3 L635.2,1280.7 L639.2,1283.1 L643.2,1285.5 L647.3,1287.9 L651.4,1290.3 L655.5,1292.7 L659.6,1295.0 L663.8,1297.4 L668.0,1299.8 L672.2,1302.2 L676.5,1304.6 L680.8,1307.0 L685.1,1309.4 L689.4,1311.8 L693.8,1314.2 L698.2,1316.5 L702.7,1318.9 L707.1,1321.3 L711.6,1323.7 L716.1,1326.1 L720.7,1328.4 L725.2,1330.8 L729.9,1333.2 L734.5,1335.6 L739.2,1337.9 L743.9,1340.3 L748.6,1342.7 L753.4,1345.0 L758.2,1347.4 L763.0,1349.7 L767.9,1352.1 L772.8,1354.4 L777.7,1356.8 L782.6,1359.1 L787.6,1361.5 L792.7,1363.8 L797.7,1366.2 L802.8,1368.5 L807.9,1370.8 L813.1,1373.1 L818.3,1375.5 L823.5,1377.8 L828.8,1380.1 L834.1,1382.4 L839.4,1384.7 L844.8,1387.0 L850.2,1389.3 L855.6,1391.6 L861.1,1393.9 L866.6,1396.1 L872.2,1398.4 L877.8,1400.7 L883.4,1402.9 L889.0,1405.2 L894.7,1407.4 L900.5,1409.7 L906.3,1411.9 L912.1,1414.2 L917.9,1416.4 L923.8,1418.7 L929.7,1420.9 L935.7,1423.2 L941.7,1425.4 L947.8,1427.6 L953.9,1429.8 L960.0,1432.1 L966.2,1434.3 L972.4,1436.5 L978.6,1438.8 L984.9,1441.0 L991.3,1443.2 L997.6,1445.4 L1004.1,1447.7 L1010.5,1449.9 L1017.0,1452.1 L1023.6,1454.3 L1030.2,1456.6 L1036.8,1458.8 L1043.5,1461.0 L1050.2,1463.3 L1057.0,1465.5 L1063.8,1467.7 L1070.7,1470.0 L1077.6,1472.2 L1084.5,1474.4 L1091.5,1476.7 L1098.6,1478.9 L1105.7,1481.2 L1112.8,1483.4 L1120.0,1485.7" fill="none" stroke="#000000" stroke-width="9.5" stroke-linecap="round" stroke-linejoin="round"/>
<path d="M181.9,888.0 L182.9,889.6 L183.9,891.2 L184.9,892.8 L185.9,894.4 L187.0,896.0 L188.0,897.6 L189.0,899.2 L190.1,900.8 L191.1,902.3 L192.2,903.9 L193.2,905.5 L194.3,907.1 L195.4,908.7 L196.5,910.3 L197.6,911.9 L198.7,913.4 L199.8,915.0 L200.9,916.6 L202.0,918.2 L203.2,919.7 L204.3,921.3 L205.4,922.9 L206.6,924.4 L207.8,926.0 L208.9,927.6 L210.1,929.1 L211.3,930.7 L212.5,932.2 L213.7,933.8 L214.9,935.4 L216.1,937.0 L217.3,938.5 L218.6,940.1 L219.8,941.7 L221.1,943.3 L222.3,944.8 L223.6,946.4 L224.9,948.0 L226.1,949.6 L227.4,951.2 L228.7,952.8 L230.0,954.4 L231.4,956.1 L232.7,957.7 L234.0,959.3 L235.4,961.0 L236.7,962.6 L238.1,964.3 L239.4,965.9 L240.8,967.6 L242.2,969.3 L243.6,970.9 L245.0,972.6 L246.4,974.3 L247.9,976.1 L249.3,977.8 L250.8,979.5 L252.2,981.3 L253.7,983.0 L255.1,984.8 L256.6,986.6 L258.1,988.4 L259.6,990.2 L261.1,992.0 L262.7,993.8 L264.2,995.7 L265.7,997.5 L267.3,999.4 L268.9,1001.3 L270.4,1003.2 L272.0,1005.1 L273.6,1007.0 L275.2,1008.9 L276.8,1010.9 L278.5,1012.8 L280.1,1014.8 L281.8,1016.8 L283.4,1018.8 L285.1,1020.8 L286.8,1022.8 L288.5,1024.8 L290.2,1026.8 L291.9,1028.9 L293.6,1030.9 L295.4,1033.0 L297.1,1035.0 L298.9,1037.1 L300.7,1039.2 L302.5,1041.3 L304.3,1043.4 L306.1,1045.5 L307.9,1047.6 L309.7,1049.7 L311.6,1051.9 L313.4,1054.0 L315.3,1056.1 L317.2,1058.3 L319.1,1060.5 L321.0,1062.6 L322.9,1064.8 L324.8,1067.0 L326.8,1069.2 L328.8,1071.4 L330.7,1073.6 L332.7,1075.8 L334.7,1078.0 L336.7,1080.2 L338.8,1082.4 L340.8,1084.6 L342.9,1086.8 L344.9,1089.1 L347.0,1091.3 L349.1,1093.6 L351.2,1095.8 L353.3,1098.0 L355.5,1100.3 L357.6,1102.5 L359.8,1104.8 L362.0,1107.1 L364.2,1109.3 L366.4,1111.6 L368.6,1113.8 L370.8,1116.1 L373.1,1118.4 L375.4,1120.7 L377.6,1122.9 L379.9,1125.2 L382.2,1127.5 L384.6,1129.8 L386.9,1132.0 L389.3,1134.3 L391.7,1136.6 L394.1,1138.9 L396.5,1141.1 L398.9,1143.4 L401.3,1145.7 L403.8,1148.0 L406.3,1150.3 L408.7,1152.5 L411.2,1154.8 L413.8,1157.1 L416.3,1159.4 L418.9,1161.6 L421.4,1163.9 L424.0,1166.2 L426.6,1168.4 L429.3,1170.7 L431.9,1172.9 L434.6,1175.2 L437.2,1177.5 L439.9,1179.7 L442.6,1182.0 L445.4,1184.2 L448.1,1186.4 L450.9,1188.7 L453.7,1190.9 L456.5,1193.2 L459.3,1195.4 L462.2,1197.6 L465.0,1199.8 L467.9,1202.0 L470.8,1204.2 L473.7,1206.4 L476.6,1208.6 L479.6,1210.8 L482.6,1213.0 L485.6,1215.2 L488.6,1217.4 L491.6,1219.6 L494.7,1221.7 L497.8,1223.9 L500.9,1226.1 L504.0,1228.3 L507.1,1230.4 L510.3,1232.6 L513.5,1234.7 L516.7,1236.9 L519.9,1239.1 L523.1,1241.2 L526.4,1243.4 L529.7,1245.5 L533.0,1247.7 L536.3,1249.8 L539.7,1252.0 L543.1,1254.1 L546.5,1256.3 L549.9,1258.4 L553.3,1260.6 L556.8,1262.7 L560.3,1264.9 L563.8,1267.1 L567.3,1269.2 L570.9,1271.4 L574.5,1273.5 L578.1,1275.7 L581.7,1277.8 L585.4,1279.9 L589.0,1282.1 L592.8,1284.2 L596.5,1286.4 L600.2,1288.5 L604.0,1290.7 L607.8,1292.8 L611.7,1294.9 L615.5,1297.1 L619.4,1299.2 L623.3,1301.3 L627.2,1303.4 L631.2,1305.6 L635.2,1307.7 L639.2,1309.8 L643.2,1311.9 L647.3,1314.0 L651.4,1316.1 L655.5,1318.3 L659.6,1320.4 L663.8,1322.5 L668.0,1324.6 L672.2,1326.6 L676.5,1328.7 L680.8,1330.8 L685.1,1332.9 L689.4,1335.0 L693.8,1337.0 L698.2,1339.1 L702.7,1341.1 L707.1,1343.2 L711.6,1345.2 L716.1,1347.2 L720.7,1349.3 L725.2,1351.3 L729.9,1353.3 L734.5,1355.3 L739.2,1357.3 L743.9,1359.2 L748.6,1361.2 L753.4,1363.2 L758.2,1365.1 L763.0,1367.1 L767.9,1369.0 L772.8,1370.9 L777.7,1372.9 L782.6,1374.8 L787.6,1376.7 L792.7,1378.5 L797.7,1380.4 L802.8,1382.3 L807.9,1384.1 L813.1,1386.0 L818.3,1387.8 L823.5,1389.6 L828.8,1391.5 L834.1,1393.3 L839.4,1395.0 L844.8,1396.8 L850.2,1398.6 L855.6,1400.3 L861.1,1402.1 L866.6,1403.8 L872.2,1405.5 L877.8,1407.2 L883.4,1408.9 L889.0,1410.6 L894.7,1412.2 L900.5,1413.9 L906.3,1415.5 L912.1,1417.1 L917.9,1418.7 L923.8,1420.3 L929.7,1421.9 L935.7,1423.5 L941.7,1425.0 L947.8,1426.6 L953.9,1428.1 L960.0,1429.6 L966.2,1431.1 L972.4,1432.6 L978.6,1434.1 L984.9,1435.6 L991.3,1437.0 L997.6,1438.5 L1004.1,1439.9 L1010.5,1441.3 L1017.0,1442.8 L1023.6,1444.2 L1030.2,1445.6 L1036.8,1447.0 L1043.5,1448.4 L1050.2,1449.8 L1057.0,1451.1 L1063.8,1452.5 L1070.7,1453.9 L1077.6,1455.3 L1084.5,1456.6 L1091.5,1458.0 L1098.6,1459.4 L1105.7,1460.7 L1112.8,1462.1 L1120.0,1463.4" fill="none" stroke="#961400" stroke-width="9.5" stroke-linecap="round" stroke-linejoin="round"/>
<path d="M314.5,1075.0 L327.0,1100.0 L302.0,1100.0 Z" fill="#ff7b78"/>
<path d="M449.3,1148.5 L461.8,1173.5 L436.8,1173.5 Z" fill="#ff7b78"/>
<path d="M583.5,1212.0 L596.0,1237.0 L571.0,1237.0 Z" fill="#ff7b78"/>
<path d="M717.5,1264.0 L730.0,1289.0 L705.0,1289.0 Z" fill="#ff7b78"/>
<path d="M851.3,1321.0 L863.8,1346.0 L838.8,1346.0 Z" fill="#ff7b78"/>
<path d="M985.5,1367.0 L998.0,1392.0 L973.0,1392.0 Z" fill="#ff7b78"/>
<path d="M1120.0,1402.0 L1132.5,1427.0 L1107.5,1427.0 Z" fill="#ff7b78"/>
<path d="M180.2,925.1 L181.2,926.1 L182.2,927.0 L183.2,928.0 L184.2,929.0 L185.3,930.0 L186.3,930.9 L187.3,931.9 L188.4,932.9 L189.4,933.9 L190.5,934.9 L191.6,935.9 L192.6,936.9 L193.7,937.8 L194.8,938.8 L195.9,939.9 L197.0,940.9 L198.1,941.9 L199.2,942.9 L200.3,943.9 L201.5,944.9 L202.6,946.0 L203.8,947.0 L204.9,948.1 L206.1,949.1 L207.3,950.2 L208.4,951.2 L209.6,952.3 L210.8,953.4 L212.0,954.5 L213.2,955.5 L214.4,956.6 L215.7,957.7 L216.9,958.8 L218.1,959.9 L219.4,961.1 L220.7,962.2 L221.9,963.3 L223.2,964.4 L224.5,965.6 L225.8,966.7 L227.1,967.9 L228.4,969.0 L229.7,970.2 L231.0,971.4 L232.4,972.6 L233.7,973.8 L235.1,974.9 L236.4,976.1 L237.8,977.4 L239.2,978.6 L240.6,979.8 L242.0,981.0 L243.4,982.3 L244.8,983.5 L246.2,984.7 L247.7,986.0 L249.1,987.3 L250.6,988.5 L252.0,989.8 L253.5,991.1 L255.0,992.4 L256.5,993.7 L258.0,995.0 L259.5,996.3 L261.0,997.6 L262.6,998.9 L264.1,1000.2 L265.7,1001.6 L267.3,1002.9 L268.8,1004.3 L270.4,1005.6 L272.0,1007.0 L273.6,1008.3 L275.2,1009.7 L276.9,1011.1 L278.5,1012.5 L280.2,1013.9 L281.8,1015.3 L283.5,1016.7 L285.2,1018.1 L286.9,1019.5 L288.6,1020.9 L290.3,1022.3 L292.0,1023.8 L293.8,1025.2 L295.5,1026.6 L297.3,1028.1 L299.1,1029.5 L300.9,1031.0 L302.7,1032.5 L304.5,1033.9 L306.3,1035.4 L308.2,1036.9 L310.0,1038.4 L311.9,1039.9 L313.7,1041.4 L315.6,1042.9 L317.5,1044.4 L319.4,1045.9 L321.4,1047.4 L323.3,1049.0 L325.3,1050.5 L327.2,1052.0 L329.2,1053.6 L331.2,1055.1 L333.2,1056.7 L335.2,1058.3 L337.2,1059.8 L339.3,1061.4 L341.3,1063.0 L343.4,1064.6 L345.5,1066.1 L347.6,1067.7 L349.7,1069.3 L351.8,1071.0 L354.0,1072.6 L356.1,1074.2 L358.3,1075.8 L360.5,1077.5 L362.7,1079.1 L364.9,1080.8 L367.1,1082.5 L369.3,1084.2 L371.6,1085.9 L373.9,1087.6 L376.2,1089.3 L378.5,1091.1 L380.8,1092.8 L383.1,1094.6 L385.5,1096.4 L387.8,1098.1 L390.2,1099.9 L392.6,1101.7 L395.0,1103.5 L397.4,1105.3 L399.9,1107.2 L402.3,1109.0 L404.8,1110.8 L407.3,1112.7 L409.8,1114.6 L412.4,1116.4 L414.9,1118.3 L417.5,1120.2 L420.0,1122.1 L422.6,1124.0 L425.2,1125.9 L427.9,1127.8 L430.5,1129.7 L433.2,1131.6 L435.9,1133.5 L438.6,1135.5 L441.3,1137.4 L444.0,1139.3 L446.8,1141.3 L449.5,1143.2 L452.3,1145.2 L455.1,1147.2 L458.0,1149.1 L460.8,1151.1 L463.7,1153.1 L466.6,1155.0 L469.5,1157.0 L472.4,1159.0 L475.3,1161.0 L478.3,1163.0 L481.3,1165.0 L484.3,1167.0 L487.3,1169.0 L490.3,1171.0 L493.4,1173.0 L496.5,1175.0 L499.6,1177.0 L502.7,1179.0 L505.9,1181.0 L509.0,1183.1 L512.2,1185.1 L515.4,1187.1 L518.6,1189.1 L521.9,1191.2 L525.2,1193.2 L528.5,1195.3 L531.8,1197.3 L535.1,1199.4 L538.5,1201.4 L541.9,1203.5 L545.3,1205.5 L548.7,1207.6 L552.1,1209.7 L555.6,1211.8 L559.1,1213.8 L562.6,1215.9 L566.2,1218.0 L569.7,1220.1 L573.3,1222.2 L576.9,1224.3 L580.6,1226.3 L584.2,1228.4 L587.9,1230.5 L591.6,1232.6 L595.4,1234.7 L599.1,1236.8 L602.9,1238.9 L606.7,1241.0 L610.6,1243.1 L614.4,1245.2 L618.3,1247.3 L622.2,1249.4 L626.2,1251.5 L630.1,1253.6 L634.1,1255.7 L638.1,1257.8 L642.2,1259.9 L646.3,1262.0 L650.4,1264.1 L654.5,1266.2 L658.6,1268.3 L662.8,1270.4 L667.0,1272.4 L671.3,1274.5 L675.5,1276.6 L679.8,1278.7 L684.2,1280.7 L688.5,1282.8 L692.9,1284.9 L697.3,1286.9 L701.7,1289.0 L706.2,1291.1 L710.7,1293.1 L715.2,1295.2 L719.8,1297.2 L724.4,1299.2 L729.0,1301.3 L733.7,1303.3 L738.3,1305.3 L743.0,1307.3 L747.8,1309.3 L752.6,1311.3 L757.4,1313.3 L762.2,1315.2 L767.1,1317.2 L772.0,1319.1 L776.9,1321.1 L781.9,1323.0 L786.9,1324.9 L791.9,1326.8 L797.0,1328.7 L802.1,1330.6 L807.2,1332.4 L812.4,1334.2 L817.6,1336.1 L822.9,1337.9 L828.1,1339.7 L833.4,1341.4 L838.8,1343.2 L844.2,1344.9 L849.6,1346.7 L855.0,1348.4 L860.5,1350.1 L866.1,1351.7 L871.6,1353.4 L877.2,1355.0 L882.8,1356.6 L888.5,1358.2 L894.2,1359.7 L900.0,1361.3 L905.8,1362.8 L911.6,1364.3 L917.5,1365.7 L923.4,1367.2 L929.3,1368.6 L935.3,1370.0 L941.3,1371.4 L947.4,1372.7 L953.5,1374.0 L959.6,1375.3 L965.8,1376.5 L972.0,1377.8 L978.3,1379.0 L984.6,1380.2 L991.0,1381.4 L997.4,1382.5 L1003.8,1383.6 L1010.3,1384.7 L1016.8,1385.8 L1023.4,1386.9 L1030.0,1388.0 L1036.6,1389.0 L1043.3,1390.0 L1050.1,1391.0 L1056.9,1392.0 L1063.7,1393.0 L1070.6,1394.0 L1077.5,1395.0 L1084.5,1395.9 L1091.5,1396.9 L1098.5,1397.9 L1105.6,1398.8 L1112.8,1399.7 L1120.0,1400.7" fill="none" stroke="#ff7b78" stroke-width="9.5" stroke-linecap="round" stroke-linejoin="round"/>
<path d="M195.1,1715.0 L196.1,1715.8 L197.1,1716.5 L198.1,1717.3 L199.1,1718.1 L200.1,1718.8 L201.2,1719.6 L202.2,1720.4 L203.2,1721.2 L204.3,1721.9 L205.3,1722.7 L206.4,1723.5 L207.5,1724.3 L208.5,1725.1 L209.6,1725.8 L210.7,1726.6 L211.8,1727.4 L212.9,1728.2 L214.0,1729.0 L215.1,1729.8 L216.3,1730.6 L217.4,1731.4 L218.5,1732.2 L219.7,1733.0 L220.8,1733.8 L222.0,1734.6 L223.2,1735.4 L224.3,1736.2 L225.5,1737.0 L226.7,1737.8 L227.9,1738.7 L229.1,1739.5 L230.3,1740.3 L231.6,1741.2 L232.8,1742.0 L234.1,1742.8 L235.3,1743.7 L236.6,1744.5 L237.8,1745.4 L239.1,1746.2 L240.4,1747.1 L241.7,1748.0 L243.0,1748.8 L244.3,1749.7 L245.6,1750.6 L246.9,1751.5 L248.3,1752.4 L249.6,1753.3 L251.0,1754.2 L252.3,1755.1 L253.7,1756.0 L255.1,1756.9 L256.5,1757.8 L257.9,1758.7 L259.3,1759.7 L260.7,1760.6 L262.1,1761.5 L263.6,1762.5 L265.0,1763.4 L266.5,1764.4 L267.9,1765.3 L269.4,1766.3 L270.9,1767.3 L272.4,1768.3 L273.9,1769.2 L275.4,1770.2 L276.9,1771.2 L278.5,1772.2 L280.0,1773.2 L281.6,1774.2 L283.1,1775.2 L284.7,1776.3 L286.3,1777.3 L287.9,1778.3 L289.5,1779.3 L291.1,1780.4 L292.7,1781.4 L294.4,1782.5 L296.0,1783.6 L297.7,1784.6 L299.3,1785.7 L301.0,1786.8 L302.7,1787.8 L304.4,1788.9 L306.1,1790.0 L307.9,1791.1 L309.6,1792.2 L311.4,1793.3 L313.1,1794.5 L314.9,1795.6 L316.7,1796.7 L318.5,1797.9 L320.3,1799.0 L322.1,1800.2 L323.9,1801.3 L325.8,1802.5 L327.6,1803.7 L329.5,1804.8 L331.4,1806.0 L333.3,1807.2 L335.2,1808.4 L337.1,1809.6 L339.0,1810.8 L341.0,1812.0 L343.0,1813.3 L344.9,1814.5 L346.9,1815.8 L348.9,1817.0 L350.9,1818.3 L352.9,1819.5 L355.0,1820.8 L357.0,1822.1 L359.1,1823.4 L361.2,1824.7 L363.3,1826.0 L365.4,1827.3 L367.5,1828.6 L369.6,1829.9 L371.8,1831.2 L373.9,1832.6 L376.1,1833.9 L378.3,1835.3 L380.5,1836.6 L382.7,1838.0 L385.0,1839.4 L387.2,1840.8 L389.5,1842.1 L391.7,1843.5 L394.0,1844.9 L396.3,1846.4 L398.7,1847.8 L401.0,1849.2 L403.4,1850.6 L405.7,1852.1 L408.1,1853.5 L410.5,1855.0 L412.9,1856.4 L415.4,1857.9 L417.8,1859.3 L420.3,1860.8 L422.8,1862.3 L425.3,1863.8 L427.8,1865.3 L430.3,1866.8 L432.9,1868.3 L435.4,1869.8 L438.0,1871.4 L440.6,1872.9 L443.2,1874.4 L445.9,1876.0 L448.5,1877.5 L451.2,1879.1 L453.9,1880.7 L456.6,1882.2 L459.3,1883.8 L462.1,1885.4 L464.8,1887.0 L467.6,1888.6 L470.4,1890.2 L473.2,1891.8 L476.0,1893.5 L478.9,1895.1 L481.8,1896.7 L484.6,1898.4 L487.6,1900.0 L490.5,1901.7 L493.4,1903.4 L496.4,1905.1 L499.4,1906.7 L502.4,1908.4 L505.4,1910.1 L508.5,1911.8 L511.5,1913.5 L514.6,1915.3 L517.7,1917.0 L520.9,1918.7 L524.0,1920.4 L527.2,1922.2 L530.4,1923.9 L533.6,1925.7 L536.8,1927.4 L540.1,1929.2 L543.3,1931.0 L546.6,1932.8 L549.9,1934.5 L553.3,1936.3 L556.7,1938.1 L560.0,1939.9 L563.4,1941.7 L566.9,1943.5 L570.3,1945.4 L573.8,1947.2 L577.3,1949.0 L580.8,1950.9 L584.4,1952.7 L587.9,1954.6 L591.5,1956.4 L595.1,1958.3 L598.8,1960.2 L602.4,1962.0 L606.1,1963.9 L609.9,1965.8 L613.6,1967.7 L617.4,1969.6 L621.1,1971.6 L624.9,1973.5 L628.8,1975.5 L632.6,1977.4 L636.5,1979.4 L640.5,1981.3 L644.4,1983.3 L648.4,1985.3 L652.3,1987.3 L656.4,1989.3 L660.4,1991.4 L664.5,1993.4 L668.6,1995.4 L672.7,1997.5 L676.9,1999.5 L681.0,2001.6 L685.3,2003.7 L689.5,2005.8 L693.8,2007.9 L698.0,2010.0 L702.4,2012.1 L706.7,2014.2 L711.1,2016.3 L715.5,2018.5 L719.9,2020.6 L724.4,2022.7 L728.9,2024.9 L733.4,2027.0 L738.0,2029.2 L742.6,2031.4 L747.2,2033.5 L751.8,2035.7 L756.5,2037.8 L761.2,2040.0 L765.9,2042.2 L770.7,2044.4 L775.5,2046.5 L780.4,2048.7 L785.2,2050.9 L790.1,2053.1 L795.0,2055.3 L800.0,2057.4 L805.0,2059.6 L810.0,2061.8 L815.1,2064.0 L820.2,2066.2 L825.3,2068.4 L830.5,2070.6 L835.7,2072.8 L840.9,2075.0 L846.2,2077.2 L851.5,2079.4 L856.8,2081.6 L862.2,2083.9 L867.6,2086.1 L873.0,2088.3 L878.5,2090.5 L884.0,2092.8 L889.6,2095.0 L895.2,2097.2 L900.8,2099.5 L906.5,2101.7 L912.2,2104.0 L917.9,2106.2 L923.7,2108.5 L929.5,2110.7 L935.3,2113.0 L941.2,2115.3 L947.2,2117.6 L953.1,2119.8 L959.1,2122.1 L965.2,2124.4 L971.3,2126.7 L977.4,2129.0 L983.6,2131.3 L989.8,2133.6 L996.0,2135.9 L1002.3,2138.2 L1008.7,2140.5 L1015.0,2142.9 L1021.5,2145.2 L1027.9,2147.5 L1034.4,2149.8 L1041.0,2152.1 L1047.6,2154.5 L1054.2,2156.8 L1060.9,2159.1 L1067.6,2161.4 L1074.4,2163.8 L1081.2,2166.1 L1088.0,2168.4 L1094.9,2170.8 L1101.9,2173.1 L1108.9,2175.4 L1115.9,2177.7 L1123.0,2180.1" fill="none" stroke="#ff2200" stroke-width="9.5" stroke-linecap="round" stroke-linejoin="round"/>
<circle cx="370.3" cy="1817.0" r="12.5" fill="#ff2200"/>
<circle cx="558.7" cy="1928.3" r="12.5" fill="#ff2200"/>
<circle cx="746.3" cy="2048.6" r="12.5" fill="#ff2200"/>
<circle cx="934.6" cy="2119.6" r="12.5" fill="#ff2200"/>
<circle cx="1123.2" cy="2172.5" r="12.5" fill="#ff2200"/>
<rect x="357.8" y="1911.5" width="25" height="25" fill="#0033ff"/>
<rect x="546.3" y="2059.5" width="25" height="25" fill="#0033ff"/>
<rect x="734.4" y="2140.3" width="25" height="25" fill="#0033ff"/>
<rect x="922.1" y="2220.3" width="25" height="25" fill="#0033ff"/>
<rect x="1110.8" y="2263.6" width="25" height="25" fill="#0033ff"/>
<path d="M181.6,1715.0 L182.6,1716.5 L183.6,1717.9 L184.6,1719.4 L185.6,1720.9 L186.7,1722.3 L187.7,1723.8 L188.7,1725.3 L189.8,1726.8 L190.8,1728.2 L191.9,1729.7 L193.0,1731.2 L194.0,1732.7 L195.1,1734.2 L196.2,1735.7 L197.3,1737.2 L198.4,1738.6 L199.5,1740.1 L200.6,1741.6 L201.8,1743.1 L202.9,1744.6 L204.0,1746.2 L205.2,1747.7 L206.3,1749.2 L207.5,1750.7 L208.7,1752.2 L209.9,1753.8 L211.0,1755.3 L212.2,1756.8 L213.4,1758.4 L214.6,1759.9 L215.9,1761.5 L217.1,1763.0 L218.3,1764.6 L219.6,1766.2 L220.8,1767.7 L222.1,1769.3 L223.4,1770.9 L224.6,1772.5 L225.9,1774.1 L227.2,1775.7 L228.5,1777.3 L229.8,1778.9 L231.1,1780.5 L232.5,1782.1 L233.8,1783.8 L235.2,1785.4 L236.5,1787.1 L237.9,1788.7 L239.3,1790.4 L240.6,1792.0 L242.0,1793.7 L243.4,1795.4 L244.8,1797.0 L246.3,1798.7 L247.7,1800.4 L249.1,1802.1 L250.6,1803.8 L252.0,1805.5 L253.5,1807.2 L255.0,1808.9 L256.5,1810.7 L258.0,1812.4 L259.5,1814.1 L261.0,1815.9 L262.5,1817.6 L264.1,1819.4 L265.6,1821.1 L267.2,1822.9 L268.7,1824.7 L270.3,1826.4 L271.9,1828.2 L273.5,1830.0 L275.1,1831.8 L276.7,1833.6 L278.4,1835.4 L280.0,1837.2 L281.7,1839.0 L283.3,1840.8 L285.0,1842.6 L286.7,1844.4 L288.4,1846.3 L290.1,1848.1 L291.8,1850.0 L293.6,1851.8 L295.3,1853.7 L297.1,1855.5 L298.8,1857.4 L300.6,1859.2 L302.4,1861.1 L304.2,1863.0 L306.0,1864.9 L307.8,1866.8 L309.7,1868.7 L311.5,1870.6 L313.4,1872.5 L315.3,1874.4 L317.2,1876.3 L319.1,1878.2 L321.0,1880.1 L322.9,1882.0 L324.8,1883.9 L326.8,1885.9 L328.8,1887.8 L330.7,1889.7 L332.7,1891.7 L334.7,1893.6 L336.8,1895.5 L338.8,1897.5 L340.8,1899.4 L342.9,1901.4 L345.0,1903.3 L347.1,1905.2 L349.2,1907.2 L351.3,1909.2 L353.4,1911.1 L355.5,1913.1 L357.7,1915.0 L359.9,1917.0 L362.1,1919.0 L364.3,1920.9 L366.5,1922.9 L368.7,1924.9 L371.0,1926.9 L373.2,1928.8 L375.5,1930.8 L377.8,1932.8 L380.1,1934.8 L382.4,1936.8 L384.7,1938.8 L387.1,1940.8 L389.5,1942.8 L391.8,1944.8 L394.2,1946.8 L396.7,1948.8 L399.1,1950.8 L401.5,1952.9 L404.0,1954.9 L406.5,1956.9 L409.0,1958.9 L411.5,1961.0 L414.0,1963.0 L416.6,1965.0 L419.1,1967.1 L421.7,1969.1 L424.3,1971.2 L426.9,1973.2 L429.6,1975.3 L432.2,1977.3 L434.9,1979.4 L437.6,1981.4 L440.3,1983.5 L443.0,1985.6 L445.7,1987.7 L448.5,1989.7 L451.3,1991.8 L454.0,1993.9 L456.9,1996.0 L459.7,1998.0 L462.5,2000.1 L465.4,2002.2 L468.3,2004.3 L471.2,2006.4 L474.1,2008.5 L477.1,2010.6 L480.1,2012.6 L483.0,2014.7 L486.0,2016.8 L489.1,2018.9 L492.1,2021.0 L495.2,2023.1 L498.3,2025.2 L501.4,2027.3 L504.5,2029.4 L507.7,2031.5 L510.8,2033.6 L514.0,2035.7 L517.2,2037.8 L520.5,2039.9 L523.7,2042.0 L527.0,2044.2 L530.3,2046.3 L533.6,2048.4 L537.0,2050.6 L540.3,2052.7 L543.7,2054.8 L547.1,2057.0 L550.6,2059.1 L554.0,2061.3 L557.5,2063.4 L561.0,2065.6 L564.5,2067.8 L568.1,2069.9 L571.6,2072.1 L575.2,2074.3 L578.9,2076.4 L582.5,2078.6 L586.2,2080.8 L589.9,2083.0 L593.6,2085.2 L597.3,2087.3 L601.1,2089.5 L604.9,2091.7 L608.7,2093.9 L612.5,2096.1 L616.4,2098.2 L620.3,2100.4 L624.2,2102.6 L628.2,2104.8 L632.2,2106.9 L636.2,2109.1 L640.2,2111.3 L644.2,2113.4 L648.3,2115.6 L652.4,2117.7 L656.6,2119.9 L660.7,2122.0 L664.9,2124.2 L669.1,2126.3 L673.4,2128.4 L677.6,2130.6 L681.9,2132.7 L686.3,2134.8 L690.6,2136.9 L695.0,2139.0 L699.4,2141.1 L703.9,2143.1 L708.4,2145.2 L712.9,2147.3 L717.4,2149.3 L722.0,2151.3 L726.6,2153.4 L731.2,2155.4 L735.9,2157.4 L740.6,2159.4 L745.3,2161.4 L750.0,2163.4 L754.8,2165.4 L759.6,2167.4 L764.5,2169.3 L769.4,2171.3 L774.3,2173.3 L779.2,2175.2 L784.2,2177.2 L789.2,2179.1 L794.2,2181.0 L799.3,2183.0 L804.4,2184.9 L809.6,2186.8 L814.8,2188.7 L820.0,2190.7 L825.2,2192.6 L830.5,2194.5 L835.8,2196.4 L841.2,2198.3 L846.6,2200.2 L852.0,2202.0 L857.5,2203.9 L863.0,2205.8 L868.5,2207.7 L874.1,2209.5 L879.7,2211.4 L885.3,2213.2 L891.0,2215.1 L896.8,2216.9 L902.5,2218.8 L908.3,2220.6 L914.2,2222.4 L920.0,2224.2 L925.9,2226.0 L931.9,2227.8 L937.9,2229.6 L943.9,2231.4 L950.0,2233.2 L956.1,2235.0 L962.3,2236.7 L968.5,2238.5 L974.7,2240.2 L981.0,2242.0 L987.3,2243.7 L993.7,2245.5 L1000.1,2247.2 L1006.5,2248.9 L1013.0,2250.6 L1019.6,2252.3 L1026.2,2254.0 L1032.8,2255.7 L1039.4,2257.4 L1046.2,2259.1 L1052.9,2260.8 L1059.7,2262.4 L1066.6,2264.1 L1073.5,2265.8 L1080.4,2267.5 L1087.4,2269.1 L1094.4,2270.8 L1101.5,2272.5 L1108.6,2274.2 L1115.8,2275.8 L1123.0,2277.5" fill="none" stroke="#0033ff" stroke-width="9.5" stroke-linecap="round" stroke-linejoin="round"/>
<path d="M370.3,1861.0 L382.8,1886.0 L357.8,1886.0 Z" fill="#008c00"/>
<path d="M560.4,2038.0 L572.9,2063.0 L547.9,2063.0 Z" fill="#008c00"/>
<path d="M746.9,2148.0 L759.4,2173.0 L734.4,2173.0 Z" fill="#008c00"/>
<path d="M934.6,2231.0 L947.1,2256.0 L922.1,2256.0 Z" fill="#008c00"/>
<path d="M1123.2,2281.0 L1135.7,2306.0 L1110.7,2306.0 Z" fill="#008c00"/>
<path d="M188.4,1714.8 L189.4,1716.0 L190.4,1717.2 L191.4,1718.4 L192.4,1719.6 L193.4,1720.8 L194.5,1722.0 L195.5,1723.2 L196.6,1724.4 L197.6,1725.6 L198.7,1726.8 L199.7,1728.0 L200.8,1729.2 L201.9,1730.4 L203.0,1731.7 L204.1,1732.9 L205.2,1734.1 L206.3,1735.4 L207.4,1736.6 L208.5,1737.8 L209.6,1739.1 L210.8,1740.3 L211.9,1741.6 L213.1,1742.8 L214.2,1744.1 L215.4,1745.3 L216.6,1746.6 L217.7,1747.8 L218.9,1749.1 L220.1,1750.4 L221.3,1751.7 L222.5,1752.9 L223.8,1754.2 L225.0,1755.5 L226.2,1756.8 L227.5,1758.1 L228.7,1759.4 L230.0,1760.7 L231.3,1762.0 L232.6,1763.3 L233.8,1764.6 L235.1,1765.9 L236.5,1767.2 L237.8,1768.6 L239.1,1769.9 L240.4,1771.2 L241.8,1772.5 L243.1,1773.9 L244.5,1775.2 L245.8,1776.6 L247.2,1777.9 L248.6,1779.3 L250.0,1780.6 L251.4,1782.0 L252.8,1783.4 L254.2,1784.7 L255.7,1786.1 L257.1,1787.5 L258.6,1788.9 L260.0,1790.3 L261.5,1791.7 L263.0,1793.1 L264.5,1794.5 L266.0,1795.9 L267.5,1797.3 L269.0,1798.7 L270.5,1800.2 L272.1,1801.6 L273.6,1803.1 L275.2,1804.5 L276.8,1806.0 L278.3,1807.5 L279.9,1808.9 L281.5,1810.4 L283.2,1811.9 L284.8,1813.4 L286.4,1814.9 L288.1,1816.4 L289.7,1818.0 L291.4,1819.5 L293.1,1821.0 L294.8,1822.6 L296.5,1824.2 L298.2,1825.7 L299.9,1827.3 L301.6,1828.9 L303.4,1830.5 L305.1,1832.2 L306.9,1833.8 L308.7,1835.4 L310.5,1837.1 L312.3,1838.7 L314.1,1840.4 L315.9,1842.1 L317.8,1843.8 L319.6,1845.5 L321.5,1847.2 L323.4,1848.9 L325.3,1850.7 L327.2,1852.4 L329.1,1854.2 L331.0,1856.0 L333.0,1857.7 L334.9,1859.5 L336.9,1861.3 L338.9,1863.1 L340.9,1865.0 L342.9,1866.8 L344.9,1868.6 L346.9,1870.5 L349.0,1872.4 L351.0,1874.2 L353.1,1876.1 L355.2,1878.0 L357.3,1879.9 L359.4,1881.8 L361.6,1883.7 L363.7,1885.6 L365.9,1887.6 L368.0,1889.5 L370.2,1891.5 L372.4,1893.4 L374.6,1895.4 L376.9,1897.3 L379.1,1899.3 L381.4,1901.3 L383.7,1903.2 L386.0,1905.2 L388.3,1907.2 L390.6,1909.2 L392.9,1911.2 L395.3,1913.2 L397.6,1915.3 L400.0,1917.3 L402.4,1919.3 L404.8,1921.3 L407.3,1923.4 L409.7,1925.4 L412.2,1927.5 L414.7,1929.5 L417.2,1931.6 L419.7,1933.7 L422.2,1935.8 L424.8,1937.8 L427.3,1939.9 L429.9,1942.0 L432.5,1944.1 L435.1,1946.3 L437.8,1948.4 L440.4,1950.5 L443.1,1952.6 L445.8,1954.8 L448.5,1956.9 L451.2,1959.1 L453.9,1961.2 L456.7,1963.4 L459.5,1965.5 L462.3,1967.7 L465.1,1969.9 L467.9,1972.1 L470.8,1974.3 L473.6,1976.5 L476.5,1978.7 L479.4,1980.9 L482.4,1983.2 L485.3,1985.4 L488.3,1987.6 L491.3,1989.9 L494.3,1992.1 L497.3,1994.4 L500.3,1996.7 L503.4,1999.0 L506.5,2001.3 L509.6,2003.6 L512.7,2005.9 L515.9,2008.3 L519.0,2010.6 L522.2,2013.0 L525.5,2015.3 L528.7,2017.7 L531.9,2020.1 L535.2,2022.5 L538.5,2024.9 L541.8,2027.4 L545.2,2029.8 L548.5,2032.3 L551.9,2034.7 L555.3,2037.2 L558.8,2039.7 L562.2,2042.2 L565.7,2044.7 L569.2,2047.2 L572.7,2049.7 L576.3,2052.2 L579.8,2054.7 L583.4,2057.3 L587.1,2059.8 L590.7,2062.4 L594.4,2064.9 L598.1,2067.5 L601.8,2070.0 L605.5,2072.6 L609.3,2075.2 L613.1,2077.7 L616.9,2080.3 L620.7,2082.9 L624.6,2085.4 L628.5,2088.0 L632.4,2090.6 L636.3,2093.1 L640.3,2095.7 L644.3,2098.2 L648.3,2100.8 L652.4,2103.3 L656.4,2105.9 L660.5,2108.4 L664.7,2110.9 L668.8,2113.5 L673.0,2116.0 L677.2,2118.5 L681.5,2121.0 L685.7,2123.5 L690.0,2126.1 L694.4,2128.6 L698.7,2131.1 L703.1,2133.6 L707.5,2136.1 L712.0,2138.6 L716.4,2141.1 L720.9,2143.6 L725.5,2146.1 L730.0,2148.6 L734.6,2151.0 L739.2,2153.5 L743.9,2156.0 L748.6,2158.5 L753.3,2161.0 L758.0,2163.5 L762.8,2166.0 L767.6,2168.5 L772.5,2170.9 L777.3,2173.4 L782.2,2175.9 L787.2,2178.4 L792.1,2180.9 L797.2,2183.3 L802.2,2185.8 L807.3,2188.3 L812.4,2190.7 L817.5,2193.2 L822.7,2195.6 L827.9,2198.1 L833.1,2200.5 L838.4,2202.9 L843.7,2205.3 L849.1,2207.7 L854.4,2210.1 L859.9,2212.5 L865.3,2214.9 L870.8,2217.3 L876.3,2219.6 L881.9,2222.0 L887.5,2224.3 L893.1,2226.6 L898.8,2228.9 L904.5,2231.2 L910.3,2233.4 L916.0,2235.7 L921.9,2237.9 L927.7,2240.1 L933.6,2242.3 L939.6,2244.5 L945.6,2246.7 L951.6,2248.8 L957.6,2251.0 L963.7,2253.1 L969.9,2255.2 L976.1,2257.2 L982.3,2259.3 L988.6,2261.3 L994.9,2263.4 L1001.2,2265.4 L1007.6,2267.3 L1014.0,2269.3 L1020.5,2271.3 L1027.0,2273.2 L1033.6,2275.1 L1040.2,2277.0 L1046.9,2278.9 L1053.6,2280.8 L1060.3,2282.7 L1067.1,2284.6 L1073.9,2286.5 L1080.8,2288.3 L1087.7,2290.2 L1094.7,2292.1 L1101.7,2293.9 L1108.7,2295.8 L1115.8,2297.6 L1123.0,2299.5" fill="none" stroke="#008c00" stroke-width="9.5" stroke-linecap="round" stroke-linejoin="round"/>
</svg>
</body></html>
